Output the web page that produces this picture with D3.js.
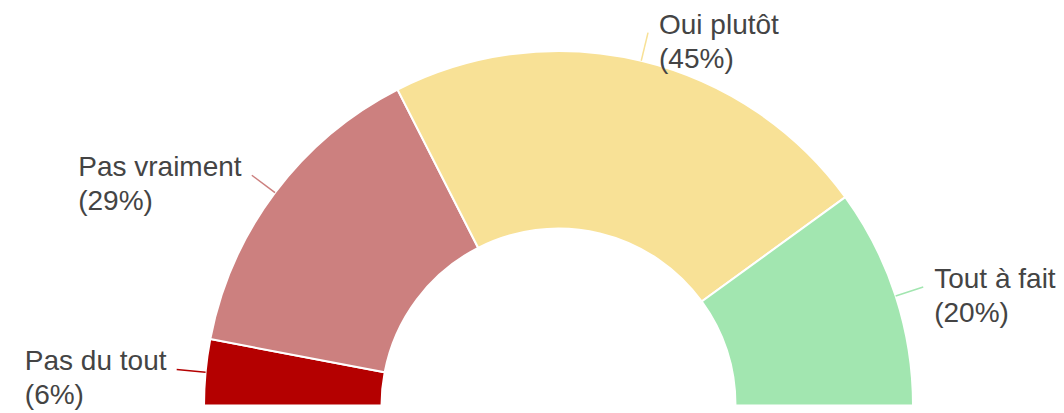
<!DOCTYPE html>
<html><head><meta charset="utf-8">
<script src="https://cdn.jsdelivr.net/npm/d3@7"></script>
<style>html,body{margin:0;padding:0;background:#fff;}svg{display:block;}</style>
</head><body>
<svg id="chart" width="1064" height="413"></svg>
<script>
const categories = ["Pas du tout", "Pas vraiment", "Oui plutôt", "Tout à fait"];
const values = [6, 29, 45, 20];
const labelsPct = ["(6%)", "(29%)", "(45%)", "(20%)"];
const colors = ["#b40000", "#cc807f", "#f8e196", "#a2e6b0"];

const W = 1064, H = 413;
const cx = 558.5, cy = 405.5;
const rOuter = 354.5, rInner = 177;
const svg = d3.select("#chart");
const g = svg.append("g").attr("transform", `translate(${cx},${cy})`);

const pie = d3.pie().sort(null).value(d => d).startAngle(-Math.PI / 2).endAngle(Math.PI / 2);
const arcs = pie(values);
const arc = d3.arc().innerRadius(rInner).outerRadius(rOuter);

g.selectAll("path.slice").data(arcs).join("path")
  .attr("class", "slice")
  .attr("d", arc)
  .attr("fill", (d, i) => colors[i])
  .attr("stroke", "#fff").attr("stroke-width", 2);

const leadLen = 29;
arcs.forEach((d, i) => {
  const a = (d.startAngle + d.endAngle) / 2; // 0 = up
  const ux = Math.sin(a), uy = -Math.cos(a);
  const x1 = ux * rOuter, y1 = uy * rOuter;
  const x2 = ux * (rOuter + leadLen), y2 = uy * (rOuter + leadLen);
  g.append("line").attr("x1", x1).attr("y1", y1).attr("x2", x2).attr("y2", y2)
    .attr("stroke", colors[i]).attr("stroke-width", 1.5);
  const left = ux < 0;
  const tx = x2 + (left ? -10 : 11);
  const t = g.append("text")
    .attr("x", tx).attr("y", y2 + 1)
    .attr("text-anchor", "start")
    .attr("font-family", "Liberation Sans, Arial, sans-serif")
    .attr("font-size", 28).attr("fill", "#444");
  t.append("tspan").attr("x", tx).text(categories[i]);
  t.append("tspan").attr("x", tx).attr("dy", 34).text(labelsPct[i]);
  if (left) {
    const bw = t.node().getBBox().width;
    t.selectAll("tspan").attr("x", tx - bw);
  }
});
</script>
</body></html>
